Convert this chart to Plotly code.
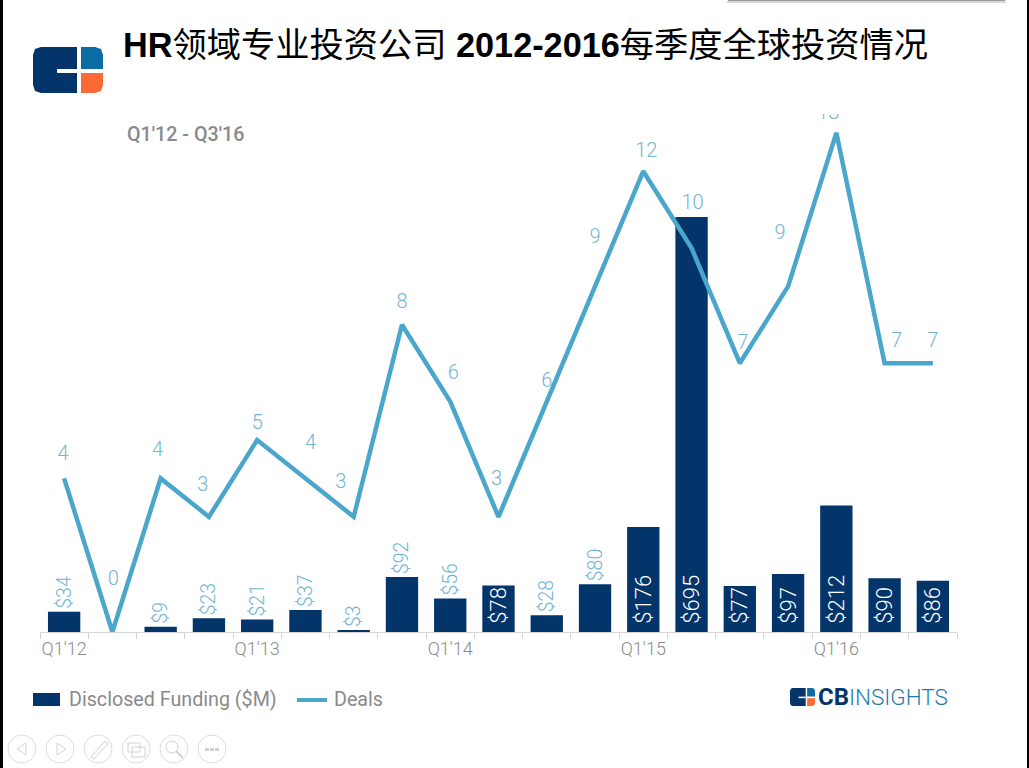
import plotly.graph_objects as go

# data
quarters = [f"Q{q}'{y}" for y in (12, 13, 14, 15) for q in (1, 2, 3, 4)] + ["Q1'16", "Q2'16", "Q3'16"]
funding = [34, 0, 9, 23, 21, 37, 3, 92, 56, 78, 28, 80, 176, 695, 77, 97, 212, 90, 86]
deals = [4, 0, 4, 3, 5, 4, 3, 8, 6, 3, 6, 9, 12, 10, 7, 9, 13, 7, 7]
funding_inside = [78, 176, 695, 77, 97, 212, 90, 86]

# pixel nudges of the deal labels relative to their points
label_dx = [-1, 1, -3, -6, 0, 5, -13, 0, 3, -2, 0, 0, 3, 1, 3, -8, -8, 12, 0]
label_dy = [23, 52, 27, 31, 16, 34, 34, 22, 28, 37, 20, 48, 19, 44, 19, 52, 19, 21, 21]

NAVY = "#03356a"
LINE = "#4aa7cb"
LABEL = "#72b5d2"
GREY = "#8a8a8a"

# plot area in page pixels
L, R, T, B = 40, 957, 114, 632
PX_PER_DEAL = 38.4
PX_PER_USD = 0.597
PX_PER_CAT = (R - L) / len(quarters)


def px(x):
    return (x - L) / (R - L)


def py(y):
    return (B - y) / (B - T)


def rect(x0, y0, x1, y1, color, **kw):
    return dict(type="rect", xref="paper", yref="paper", x0=px(x0), x1=px(x1), y0=py(y0), y1=py(y1),
                fillcolor=color, line=dict(width=0), **kw)


def path(points, color=None, stroke=None, width=1):
    d = "M" + " L".join(f"{px(x):.5f},{py(y):.5f}" for x, y in points) + (" Z" if color else "")
    return dict(type="path", xref="paper", yref="paper", path=d, fillcolor=color,
                line=dict(color=stroke, width=width if stroke else 0))


def circle(cx, cy, r, stroke="#dcdcdc"):
    return dict(type="circle", xref="paper", yref="paper", x0=px(cx - r), x1=px(cx + r),
                y0=py(cy + r), y1=py(cy - r), line=dict(color=stroke, width=1))


def logo(x, y, w, h):
    # rounded block logo, x/y top-left
    sx, sy = w / 70, h / 46
    p = lambda a, b: (x + a * sx, y + b * sy)
    r = 8
    dark = [p(r, 0), p(44, 0), p(44, 46), p(r, 46), p(2, 44), p(0, 46 - r), p(0, r), p(2, 2)]
    notch = [p(24, 22), p(44, 22), p(44, 26), p(24, 26)]
    blue = [p(48, 0), p(62, 0), p(68, 2), p(70, r), p(70, 22), p(48, 22)]
    orange = [p(48, 26), p(70, 26), p(70, 38), p(68, 44), p(62, 46), p(48, 46)]
    return [path(dark, NAVY), path(notch, "white"), path(blue, "#0a6ca3"), path(orange, "#fb6a35")]


fig = go.Figure()

is_inside = [v in funding_inside for v in funding]

fig.add_trace(go.Bar(
    x=quarters, y=funding, yaxis="y",
    marker=dict(color=NAVY, line=dict(width=0)),
    text=[("\u00a0" if ins else "") + f"${v}" if v else "" for v, ins in zip(funding, is_inside)],
    textangle=-90,
    textposition=["inside" if ins else "outside" for ins in is_inside],
    insidetextanchor="start",
    constraintext="none",
    cliponaxis=False,
    textfont=dict(family="Roboto", weight=300,
                  size=[22 if ins else 19.5 for ins in is_inside],
                  color=["white" if ins else LABEL for ins in is_inside]),
    showlegend=False,
    hoverinfo="skip",
))

fig.add_trace(go.Scatter(
    x=quarters, y=deals, yaxis="y2", mode="lines",
    line=dict(color=LINE, width=4.5),
    cliponaxis=False,
    showlegend=False,
))

# deal labels sit in their own trace so the plot area clips the "13" like the original
fig.add_trace(go.Scatter(
    x=[i + dx / PX_PER_CAT for i, dx in enumerate(label_dx)],
    y=[d + dy / PX_PER_DEAL for d, dy in zip(deals, label_dy)],
    xaxis="x2", yaxis="y2", mode="text",
    text=[str(d) for d in deals],
    textposition="middle center",
    textfont=dict(family="Roboto", size=20, weight=300, color=LABEL),
    cliponaxis=True,
    showlegend=False,
    hoverinfo="skip",
))

shapes = [
    rect(0, 0, 3, 768, "black"),
    rect(1027, 0, 1029, 768, "black"),
    rect(728, 0, 1005, 1, "#9a9a9a"),
    rect(727, 1, 1006, 3, "#d8d8d8"),
    # legend swatches
    rect(33, 693, 60, 706, NAVY),
    path([(297, 700), (327, 700)], stroke=LINE, width=4),
]
shapes += logo(33, 47, 70, 46)
shapes += logo(790, 688, 25, 18)

# viewer toolbar along the bottom
for cx in (22, 60, 98, 136, 174, 212):
    shapes.append(circle(cx, 749, 14))
TB = "#d2d2d2"
shapes += [
    path([(26, 743), (17, 749), (26, 755), (26, 743)], stroke=TB),
    path([(57, 743), (66, 749), (57, 755), (57, 743)], stroke=TB),
    path([(91, 757), (105, 741), (108, 744), (94, 759), (91, 757)], stroke=TB),
    path([(128, 743), (140, 743), (140, 752), (128, 752), (128, 743)], stroke=TB),
    path([(132, 747), (145, 747), (145, 757), (132, 757), (132, 747)], stroke=TB),
    circle(172, 747, 6, TB),
    path([(176, 751), (183, 758)], stroke=TB, width=2),
    rect(205, 748, 209, 751, TB),
    rect(210, 748, 214, 751, TB),
    rect(215, 748, 219, 751, TB),
]


def note(x, y, text, size, color, family="Roboto", anchor="left", weight=None):
    return dict(xref="paper", yref="paper", x=px(x), y=py(y), text=text, showarrow=False,
                xanchor=anchor, yanchor="middle",
                font=dict(family=family, size=size, color=color, weight=weight))


annotations = [
    note(121, 45, "<b>HR</b>领域专业投资公司 <b>2012-2016</b>每季度全球投资情况", 34.25, "black",
         family="Liberation Sans, Noto Sans CJK SC"),
    note(125, 134, "Q1'12 - Q3'16", 19.7, GREY, weight=500),
    note(67, 699, "Disclosed Funding ($M)", 19.7, GREY),
    note(332, 699, "Deals", 19.7, GREY),
    note(851, 697, "<b>CB</b>", 24, NAVY, anchor="right"),
    note(950, 697, "INSIGHTS", 22.5, "#1f7ba8", anchor="right", weight=300),
]

fig.update_layout(
    width=1029, height=768,
    margin=dict(l=L, r=1029 - R, t=T, b=768 - B),
    paper_bgcolor="white", plot_bgcolor="white",
    bargap=0.33,
    showlegend=False,
    xaxis=dict(
        type="category", categoryorder="array", categoryarray=quarters,
        range=[-0.5, len(quarters) - 0.5],
        tickson="boundaries", ticks="outside", ticklen=6, tickcolor="#d4d4d4", tickwidth=1,
        showline=True, linecolor="#d4d4d4", linewidth=1,
        showgrid=False, zeroline=False,
        dtick=1, ticklabelstep=4, tickangle=0,
        tickfont=dict(family="Roboto", size=18, weight=300, color=GREY),
    ),
    xaxis2=dict(visible=False, overlaying="x", range=[-0.5, len(quarters) - 0.5]),
    yaxis=dict(visible=False, range=[0, (B - T) / PX_PER_USD]),
    yaxis2=dict(visible=False, overlaying="y", range=[0, (B - T) / PX_PER_DEAL]),
    shapes=shapes,
    annotations=annotations,
)

fig.write_html("out.html", config=dict(displayModeBar=False),
               post_script="document.body.style.margin='0';document.body.style.overflow='hidden';")
